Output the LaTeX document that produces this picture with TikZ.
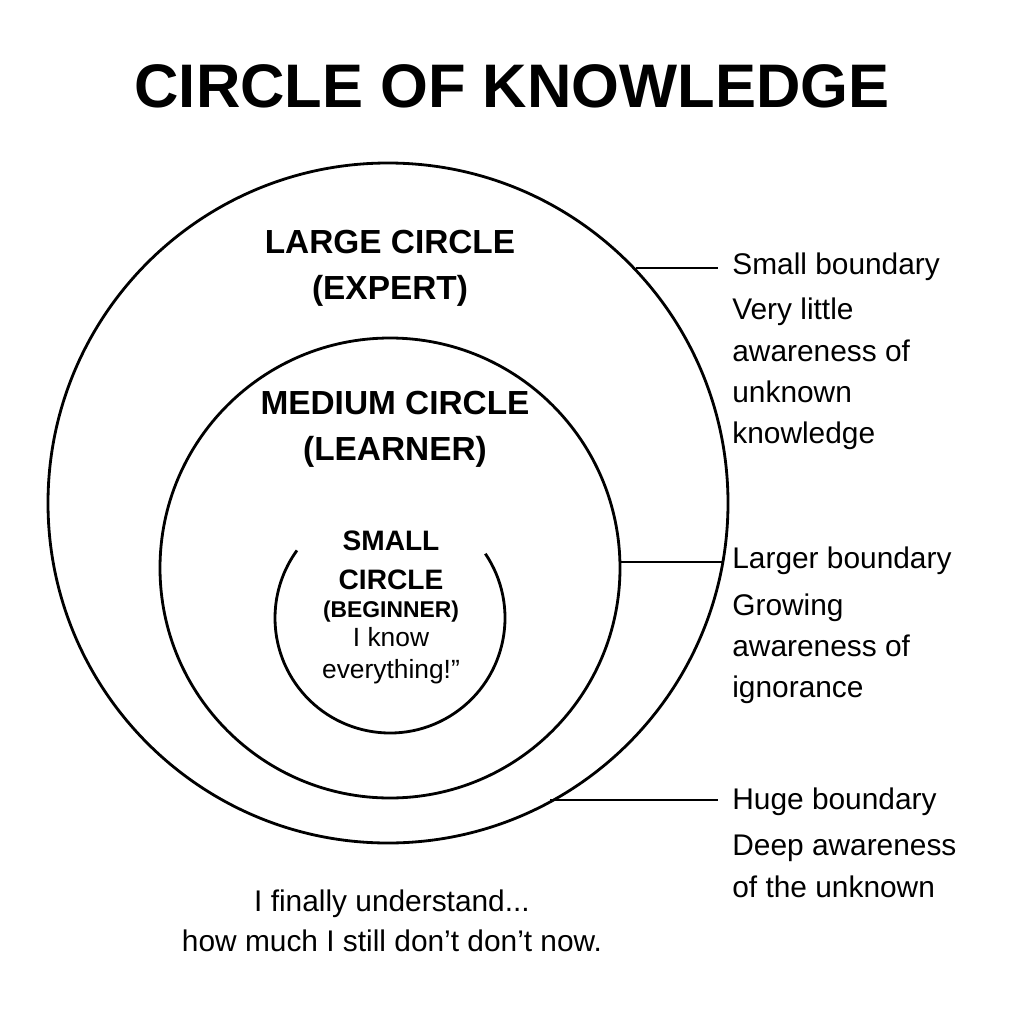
\documentclass[tikz,border=0pt]{standalone}
\usepackage{fontspec}
\setmainfont{Liberation Sans}
\usetikzlibrary{positioning}

\begin{document}
\begin{tikzpicture}[x=0.02cm,y=-0.02cm,
  ring/.style={line width=1.6pt},
  lead/.style={line width=0.9pt},
  tag/.style={anchor=west, align=left, font=\fontsize{17}{23.5}\selectfont, inner sep=0pt},
  head/.style={align=center, font=\bfseries\fontsize{19}{26}\selectfont, inner sep=0pt},
  note/.style={align=center, font=\fontsize{17}{23}\selectfont, inner sep=0pt}]
  \useasboundingbox (0,0) rectangle (1024,1024);

  \node (title) [font=\bfseries\fontsize{35}{40}\selectfont] at (512,86) {CIRCLE OF KNOWLEDGE};

  % circles
  \draw [ring] (388,503) circle (340);
  \draw [ring] (390,568) circle (230);
  \draw [ring] (390,618) ++(-34:115) arc (-34:216:115);

  \node (large) [head] at (390,268) {LARGE CIRCLE\\(EXPERT)};
  \node (medium) [head] at (395,429) {MEDIUM CIRCLE\\(LEARNER)};
  \node (small) [head, font=\bfseries\fontsize{16}{22}\selectfont] at (391,560) {SMALL\\CIRCLE};
  \node (beg) [head, font=\bfseries\fontsize{13}{16}\selectfont, below=6pt of small] {(BEGINNER)};
  \node (know) [note, font=\fontsize{15}{18}\selectfont, below=3pt of beg] {I know\\everything!''};

  % boundary notes
  \node (t1) [tag] at (732,267) {Small boundary};
  \node (d1) [tag, anchor=north west] at (732,298) {Very little\\awareness of\\unknown\\knowledge};
  \node (t2) [tag] at (732,561) {Larger boundary};
  \node (d2) [tag, anchor=north west] at (732,593) {Growing\\awareness of\\ignorance};
  \node (t3) [tag] at (732,802) {Huge boundary};
  \node (d3) [tag, anchor=north west] at (732,835) {Deep awareness\\of the unknown};

  \coordinate (p1) at (636,268);
  \coordinate (p2) at (620,562);
  \coordinate (p3) at (550,800);
  \draw [lead] (p1) -- ++(82,0);
  \draw [lead] (p2) -- ++(102,0);
  \draw [lead] (p3) -- ++(168,0);

  \node (end) [note] at (392,921) {I finally understand...\\how much I still don’t don't now.};
\end{tikzpicture}
\end{document}
